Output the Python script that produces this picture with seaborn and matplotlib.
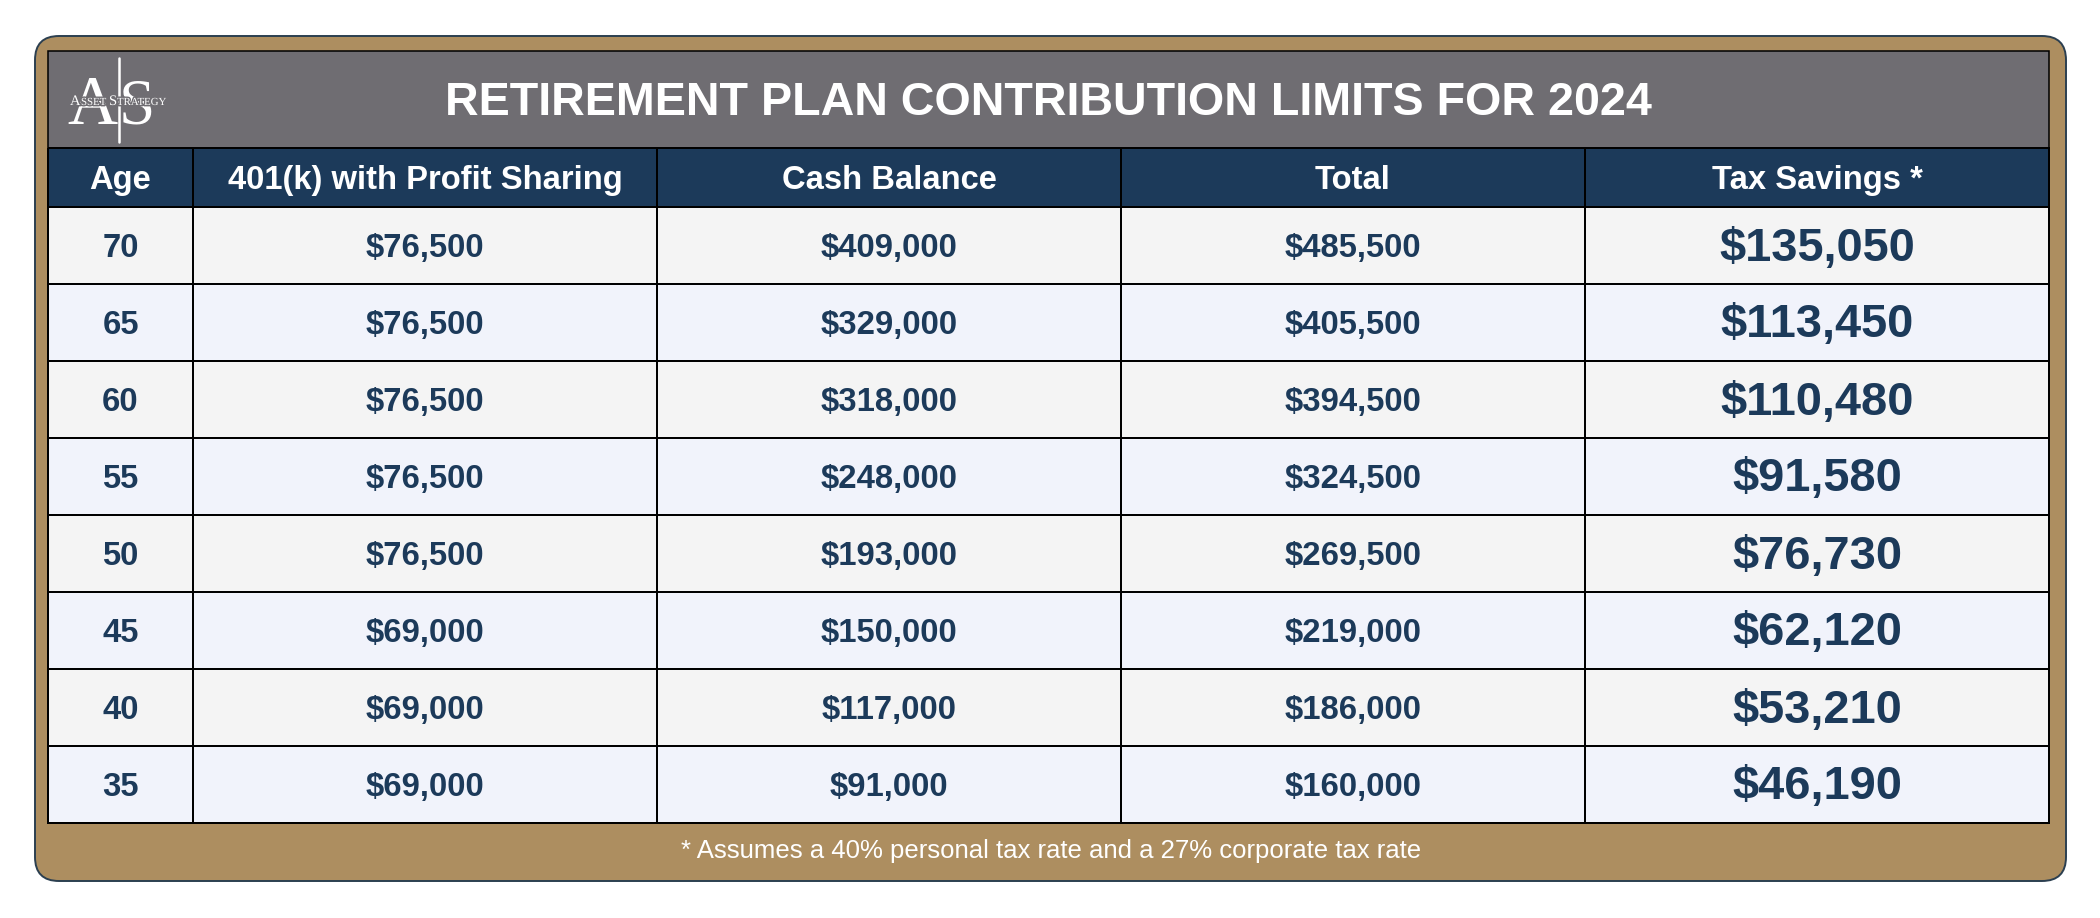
import matplotlib
matplotlib.use("Agg")
import matplotlib.pyplot as plt
import matplotlib.patheffects as pe
import numpy as np
import seaborn as sns
from matplotlib.colors import ListedColormap
from matplotlib.patches import FancyBboxPatch, Rectangle
from matplotlib.transforms import ScaledTranslation

W, H = 2100, 918

# table contents
title = "RETIREMENT PLAN CONTRIBUTION LIMITS FOR 2024"
headers = ["Age", "401(k) with Profit Sharing", "Cash Balance", "Total", "Tax Savings *"]
ages = [70, 65, 60, 55, 50, 45, 40, 35]
k401 = [76500, 76500, 76500, 76500, 76500, 69000, 69000, 69000]
cash_balance = [409000, 329000, 318000, 248000, 193000, 150000, 117000, 91000]
totals = [485500, 405500, 394500, 324500, 269500, 219000, 186000, 160000]
tax_savings = [135050, 113450, 110480, 91580, 76730, 62120, 53210, 46190]
footnote = "* Assumes a 40% personal tax rate and a 27% corporate tax rate"

GOLD = "#ad8e60"
NAVY = "#1c3a5a"
GREY = "#6f6d72"
ROW_A = "#f4f4f4"
ROW_B = "#f1f3fb"

sns.set_theme(style="white")
plt.rcParams["font.family"] = ["Liberation Sans", "DejaVu Sans"]


def px_axes(fig, x0, y0, x1, y1):
    """axes placed by pixel box, y measured from top of the image"""
    return fig.add_axes([x0 / W, 1 - y1 / H, (x1 - x0) / W, (y1 - y0) / H])


def money(values):
    return [f"${v:,}" for v in values]


def table_block(ax, annot, band, colors, text_color, size):
    sns.heatmap(
        band, ax=ax, annot=annot, fmt="", cmap=ListedColormap(colors),
        vmin=0, vmax=len(colors) - 1, cbar=False, linewidths=1.1, linecolor="black",
        xticklabels=False, yticklabels=False,
        annot_kws={"fontsize": size, "fontweight": "bold", "color": text_color},
    )
    ax.collections[0].set_clip_on(False)
    # annotations sit a little high, nudge them down 3 px
    nudge = ScaledTranslation(0, -3 / 100, ax.figure.dpi_scale_trans)
    for t in ax.texts:
        t.set_color(text_color)
        t.set_transform(t.get_transform() + nudge)


fig = plt.figure(figsize=(W / 100, H / 100), dpi=100, facecolor="white")

# full figure axes in pixel coords, used for the card and the logo
bg = fig.add_axes([0, 0, 1, 1])
bg.set_xlim(0, W)
bg.set_ylim(H, 0)
bg.axis("off")
bg.add_patch(FancyBboxPatch((35 + 24, 36 + 24), 2031 - 48, 845 - 48,
                            boxstyle="round,pad=24,rounding_size=24",
                            fc=GOLD, ec="#2b3f50", lw=1.4))
bg.add_patch(Rectangle((48, 51), 2001, 97, fc=GREY, ec="black", lw=1.1))
bg.text(1048, 103, title, ha="center", va="center", color="white",
        fontsize=33.6, fontweight="bold")
bg.text(1051, 851, footnote, ha="center", va="center", color="white", fontsize=18.5)

# logo
bg.plot([119, 119], [58, 142], color="white", lw=1.8)
bg.text(92, 124, "A", ha="center", va="baseline", color="white",
        fontsize=50, family="Liberation Serif")
bg.text(137, 124, "S", ha="center", va="baseline", color="white",
        fontsize=47, family="Liberation Serif")
for piece, px, size in [("A", 70, 10.5), ("SSET", 81, 7.8), ("S", 109, 10.5), ("TRATEGY", 117, 7.8)]:
    t = bg.text(px, 105, piece, ha="left", va="baseline", color="white",
                fontsize=size, family="Liberation Serif")
    t.set_path_effects([pe.withStroke(linewidth=2, foreground=GREY)])

# header row, age column is narrower so it gets its own axes
head_age = px_axes(fig, 48, 148, 193, 207)
table_block(head_age, np.array([[headers[0]]]), np.zeros((1, 1)), [NAVY, NAVY], "white", 23.6)
head_rest = px_axes(fig, 193, 148, 2049, 207)
table_block(head_rest, np.array([headers[1:]]), np.zeros((1, 4)), [NAVY, NAVY], "white", 23.6)

# body rows
band = np.arange(len(ages)) % 2
body_age = px_axes(fig, 48, 207, 193, 823)
table_block(body_age, np.array([[str(a)] for a in ages]), band[:, None],
            [ROW_A, ROW_B], NAVY, 23.7)
body_rest = px_axes(fig, 193, 207, 2049, 823)
annot = np.array([money(k401), money(cash_balance), money(totals), money(tax_savings)]).T
table_block(body_rest, annot, np.tile(band[:, None], (1, 4)), [ROW_A, ROW_B], NAVY, 23.7)
# tax savings column is set larger
for t in body_rest.texts[3::4]:
    t.set_fontsize(33.8)

fig.savefig("out.png", dpi=100)
